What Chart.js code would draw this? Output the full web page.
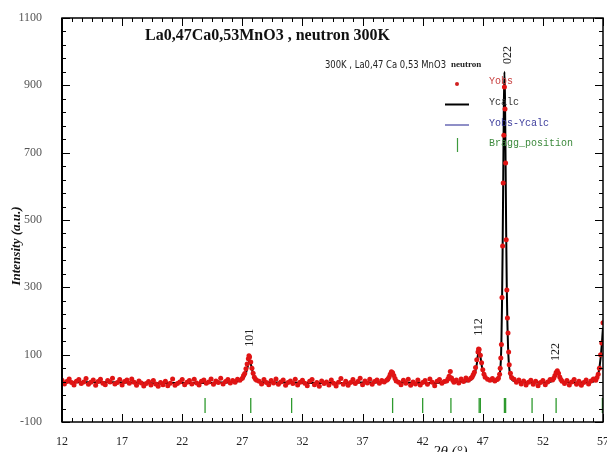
<!DOCTYPE html>
<html>
<head>
<meta charset="utf-8">
<script src="https://cdn.jsdelivr.net/npm/chart.js@4.4.0/dist/chart.umd.min.js"></script>
<style>
  html, body { margin: 0; padding: 0; background: #fff; }
  #wrap { width: 607px; height: 452px; }
</style>
</head>
<body>
<div id="wrap"><canvas id="xrd" width="607" height="452"></canvas></div>
<script>
// observed pattern, 2theta (deg) and counts
const obsTheta = [
  12, 12.2, 12.4, 12.6, 12.8, 13, 13.2, 13.4, 13.6, 13.8, 14, 14.2, 14.4, 14.6, 14.8, 15, 15.2, 15.4, 15.6, 15.8,
  16, 16.2, 16.4, 16.6, 16.8, 17, 17.2, 17.4, 17.6, 17.8, 18, 18.2, 18.4, 18.6, 18.8, 19, 19.2, 19.4, 19.6, 19.8,
  20, 20.2, 20.4, 20.6, 20.8, 21, 21.2, 21.4, 21.6, 21.8, 22, 22.2, 22.4, 22.6, 22.8, 23, 23.2, 23.4, 23.6, 23.8,
  24, 24.2, 24.4, 24.6, 24.8, 25, 25.2, 25.4, 25.6, 25.8, 26, 26.2, 26.4, 26.6, 26.8,
  27, 27.1, 27.2, 27.3, 27.4, 27.5, 27.55, 27.6, 27.7, 27.8, 27.9, 28, 28.1, 28.2,
  28.4, 28.6, 28.8, 29, 29.2, 29.4, 29.6, 29.8, 30, 30.2, 30.4, 30.6, 30.8, 31, 31.2, 31.4, 31.6, 31.8, 32, 32.2,
  32.4, 32.6, 32.8, 33, 33.2, 33.4, 33.6, 33.8, 34, 34.2, 34.4, 34.6, 34.8, 35, 35.2, 35.4, 35.6, 35.8, 36, 36.2,
  36.4, 36.6, 36.8, 37, 37.2, 37.4, 37.6, 37.8, 38, 38.2, 38.4, 38.6, 38.8,
  39, 39.1, 39.2, 39.3, 39.4, 39.5, 39.6, 39.7, 39.8,
  40, 40.2, 40.4, 40.6, 40.8, 41, 41.2, 41.4, 41.6, 41.8, 42, 42.2, 42.4, 42.6, 42.8, 43, 43.2, 43.4, 43.6, 43.8,
  44, 44.1, 44.2, 44.3, 44.4, 44.5, 44.6,
  44.8, 45, 45.2, 45.4, 45.6, 45.8, 46,
  46.1, 46.2, 46.3, 46.4, 46.5, 46.6, 46.65, 46.7, 46.8, 46.9, 47, 47.1, 47.2, 47.4, 47.6, 47.8, 48, 48.2, 48.3,
  48.4, 48.45, 48.5, 48.55, 48.6, 48.65, 48.7, 48.75, 48.8, 48.85, 48.9, 48.95, 49, 49.05, 49.1, 49.15, 49.2, 49.3, 49.4,
  49.6, 49.8, 50, 50.2, 50.4, 50.6, 50.8, 51, 51.2, 51.4, 51.6, 51.8, 52, 52.2, 52.4, 52.6,
  52.8, 52.9, 53, 53.1, 53.2, 53.3, 53.4, 53.5, 53.6,
  53.8, 54, 54.2, 54.4, 54.6, 54.8, 55, 55.2, 55.4, 55.6, 55.8, 56, 56.2, 56.4,
  56.5, 56.6, 56.7, 56.8, 56.9, 57
];
const obsCounts = [
  24, 13, 20, 28, 17, 10, 21, 26, 14, 19, 29, 12, 18, 25, 9, 20, 27, 15, 11, 23,
  19, 30, 13, 17, 26, 10, 20, 25, 15, 28, 18, 9, 22, 16, 7, 14, 20, 10, 23, 13,
  6, 17, 11, 21, 8, 15, 28, 9, 14, 19, 26, 11, 18, 23, 13, 27, 16, 10, 21, 25,
  15, 19, 28, 12, 22, 17, 30, 13, 20, 26, 16, 23, 18, 27, 24,
  30, 38, 44, 58, 72, 88, 97, 93, 78, 60, 45, 33, 27, 24,
  21, 13, 26, 17, 11, 23, 16, 28, 12, 19, 25, 9, 17, 22, 14, 27, 10, 18, 24, 15,
  8, 21, 26, 11, 17, 6, 22, 14, 19, 10, 25, 15, 7, 18, 29, 12, 21, 9, 17, 26,
  14, 20, 30, 11, 22, 16, 27, 12, 20, 25, 15, 23, 19,
  24, 27, 33, 42, 49, 46, 38, 29, 22,
  18, 11, 24, 15, 27, 9, 19, 13, 25, 10, 17, 23, 12, 28, 18, 8, 21, 26, 15, 20,
  22, 28, 36, 50, 31, 24, 18,
  25, 16, 28, 20, 31, 24, 30,
  33, 40, 48, 62, 85, 108, 117, 115, 98, 76, 55, 42, 33, 27, 24, 29, 22, 26, 30,
  42, 60, 90, 130, 270, 423, 610, 752, 895, 830, 669, 441, 292, 209, 164, 108, 70, 45, 32,
  27, 18, 25, 13, 22, 10, 18, 24, 12, 21, 8, 17, 23, 11, 19, 26,
  25, 30, 38, 47, 52, 45, 34, 26, 21,
  14, 23, 10, 19, 26, 12, 21, 9, 17, 25, 13, 22, 28, 24,
  32, 42, 60, 100, 135, 195
];

// calculated profile
const calcTheta = [
  12, 14, 16, 18, 20, 22, 24, 25, 26, 26.8, 27.1, 27.3, 27.45, 27.6, 27.75, 27.9, 28.1, 28.4, 29, 31,
  33, 35, 37, 38.5, 39, 39.2, 39.35, 39.45, 39.55, 39.7, 39.9, 40.5, 42, 43.5, 44, 44.15, 44.3, 44.45, 44.6, 45.5,
  46, 46.3, 46.5, 46.6, 46.7, 46.8, 46.95, 47.15, 47.5, 48, 48.3, 48.4, 48.5, 48.55, 48.6, 48.65, 48.7, 48.75, 48.8, 48.85,
  48.9, 48.95, 49, 49.05, 49.1, 49.15, 49.2, 49.3, 49.4, 49.6, 50, 51, 52, 52.7, 52.95, 53.15, 53.25, 53.4, 53.6, 54,
  55, 56, 56.3, 56.5, 56.65, 56.8, 56.9, 57, 57.1
];
const calcCounts = [
  18, 18, 18, 17, 15, 16, 16, 17, 18, 22, 30, 45, 65, 82, 66, 42, 26, 20, 18, 17,
  16, 16, 17, 18, 21, 28, 40, 47, 40, 27, 20, 17, 16, 17, 19, 26, 37, 25, 19, 20,
  25, 40, 72, 100, 112, 95, 60, 35, 25, 22, 26, 38, 80, 140, 250, 410, 620, 830, 940, 860,
  660, 450, 290, 190, 125, 85, 60, 36, 27, 22, 19, 17, 17, 20, 32, 46, 48, 35, 22, 18,
  17, 18, 22, 30, 50, 90, 130, 180, 200
];

// reflections
const braggTheta = [23.9, 27.7, 31.1, 39.5, 42.0, 44.35, 46.7, 46.8, 48.8, 48.9, 51.1, 53.1, 56.95];
const braggLevel = -51;

// hkl labels and where they sit (2theta, counts)
const peakNames = ['101', '112', '022', '122'];
const peakTheta = [27.65, 46.67, 49.08, 53.1];
const peakLabelAt = [150, 182, 990, 108];

const xTickValues = [12, 17, 22, 27, 32, 37, 42, 47, 52, 57];
const yTickValues = [-100, 100, 300, 500, 700, 900, 1100];

const serif = '"Liberation Serif", "Times New Roman", serif';
const mono = '"Liberation Mono", "Courier New", monospace';

const frame = {
  id: 'frame',
  afterDraw(chart) {
    const { ctx, chartArea: a, scales: { x, y } } = chart;
    ctx.save();
    ctx.strokeStyle = '#000';

    // inward ticks
    ctx.lineWidth = 1;
    ctx.beginPath();
    for (let i = 0; i < yTickValues.length; i++) {
      const v = yTickValues[i];
      for (let k = 0; k < 5; k++) {
        const vv = v + k * 40;
        if (vv > 1100) break;
        const py = Math.round(y.getPixelForValue(vv)) + 0.5;
        const len = k === 0 ? 8 : 4;
        ctx.moveTo(a.left, py); ctx.lineTo(a.left + len, py);
        ctx.moveTo(a.right, py); ctx.lineTo(a.right - len, py);
      }
    }
    for (let i = 0; i < xTickValues.length; i++) {
      const v = xTickValues[i];
      for (let k = 0; k < 6; k++) {
        const vv = v + k * 5 / 6;
        if (vv > 57.01) break;
        const px = Math.round(x.getPixelForValue(vv)) + 0.5;
        const len = k === 0 ? 8 : 4;
        ctx.moveTo(px, a.bottom); ctx.lineTo(px, a.bottom - len);
        ctx.moveTo(px, a.top); ctx.lineTo(px, a.top + len);
      }
    }
    ctx.stroke();

    ctx.lineWidth = 1.5;
    ctx.strokeRect(a.left, a.top, a.right - a.left, a.bottom - a.top);
    ctx.lineWidth = 2;
    ctx.beginPath();
    ctx.moveTo(a.left, a.top); ctx.lineTo(a.left, a.bottom);
    ctx.stroke();

    // titles
    ctx.fillStyle = '#111';
    ctx.textBaseline = 'alphabetic';
    ctx.textAlign = 'left';
    ctx.font = 'bold 16px ' + serif;
    ctx.fillText('La0,47Ca0,53MnO3 , neutron 300K', 145, 40);

    ctx.font = '10px "DejaVu Sans Condensed", "Liberation Sans", sans-serif';
    ctx.fillStyle = '#222';
    ctx.fillText('300K , La0,47 Ca 0,53 MnO3', 325, 68, 121);
    ctx.font = 'bold 9px ' + serif;
    ctx.fillText('neutron', 451, 67, 31);

    // legend
    ctx.font = '10px ' + mono;
    ctx.fillStyle = '#d02020';
    ctx.beginPath(); ctx.arc(457, 84, 2, 0, Math.PI * 2); ctx.fill();
    ctx.fillStyle = '#c84040';
    ctx.fillText('Yobs', 489, 84);

    ctx.strokeStyle = '#000'; ctx.lineWidth = 2;
    ctx.beginPath(); ctx.moveTo(445, 104.5); ctx.lineTo(469, 104.5); ctx.stroke();
    ctx.fillStyle = '#333';
    ctx.fillText('Ycalc', 489, 105);

    ctx.strokeStyle = '#6a6ab4'; ctx.lineWidth = 1.5;
    ctx.beginPath(); ctx.moveTo(445, 125); ctx.lineTo(469, 125); ctx.stroke();
    ctx.fillStyle = '#3c3c9c';
    ctx.fillText('Yobs-Ycalc', 489, 126);

    ctx.strokeStyle = '#3d9a3d'; ctx.lineWidth = 1.2;
    ctx.beginPath(); ctx.moveTo(457.5, 138); ctx.lineTo(457.5, 152); ctx.stroke();
    ctx.fillStyle = '#3d8a3d';
    ctx.fillText('Bragg_position', 489, 146);

    // hkl labels
    ctx.fillStyle = '#222';
    ctx.font = '12px ' + serif;
    ctx.textAlign = 'center';
    ctx.textBaseline = 'middle';
    for (let i = 0; i < peakNames.length; i++) {
      ctx.save();
      ctx.translate(x.getPixelForValue(peakTheta[i]), y.getPixelForValue(peakLabelAt[i]));
      ctx.rotate(-Math.PI / 2);
      ctx.fillText(peakNames[i], 0, 0);
      ctx.restore();
    }

    // axis titles
    ctx.save();
    ctx.translate(17, 246);
    ctx.rotate(-Math.PI / 2);
    ctx.font = 'italic bold 13px ' + serif;
    ctx.fillStyle = '#111';
    ctx.fillText('Intensity (a.u.)', 0, 0);
    ctx.restore();

    ctx.font = 'italic 15px ' + serif;
    ctx.textAlign = 'left';
    ctx.textBaseline = 'alphabetic';
    ctx.fillStyle = '#111';
    ctx.fillText('2\u03b8 (\u00b0)', 433, 456);

    ctx.restore();
  }
};

new Chart(document.getElementById('xrd'), {
  type: 'scatter',
  data: {
    datasets: [
      {
        label: 'Yobs',
        data: obsTheta.map((t, i) => ({ x: t, y: obsCounts[i] })),
        pointRadius: 2.5,
        pointBackgroundColor: '#e01414',
        pointBorderWidth: 0,
        order: 0
      },
      {
        label: 'Ycalc',
        data: calcTheta.map((t, i) => ({ x: t, y: calcCounts[i] })),
        showLine: true,
        borderColor: '#000',
        borderWidth: 2,
        pointRadius: 0,
        cubicInterpolationMode: 'monotone',
        order: 1
      },
      {
        label: 'Bragg_position',
        data: braggTheta.map(t => ({ x: t, y: braggLevel })),
        pointStyle: 'line',
        rotation: 90,
        pointRadius: 7.5,
        borderColor: '#2e9a2e',
        pointBorderWidth: 1.3,
        order: 2
      }
    ]
  },
  options: {
    responsive: false,
    animation: false,
    devicePixelRatio: 1,
    layout: { autoPadding: false, padding: { top: 18, right: 4, left: 0, bottom: 0 } },
    plugins: { legend: { display: false }, tooltip: { enabled: false } },
    scales: {
      x: {
        type: 'linear',
        min: 12,
        max: 57,
        afterBuildTicks: s => { s.ticks = xTickValues.map(v => ({ value: v })); },
        afterFit: s => { s.height = 30; s.paddingLeft = 0; s.paddingRight = 0; },
        grid: { display: false, drawTicks: false },
        border: { display: false },
        ticks: { padding: 13, color: '#222', font: { family: serif, size: 12 }, callback: v => String(v) }
      },
      y: {
        min: -100,
        max: 1100,
        afterBuildTicks: s => { s.ticks = yTickValues.map(v => ({ value: v })); },
        afterFit: s => { s.width = 62; s.paddingTop = 0; s.paddingBottom = 0; },
        grid: { display: false, drawTicks: false },
        border: { display: false },
        ticks: { padding: 20, color: '#555', font: { family: serif, size: 12 }, callback: v => String(v) }
      }
    }
  },
  plugins: [frame]
});
</script>
</body>
</html>
